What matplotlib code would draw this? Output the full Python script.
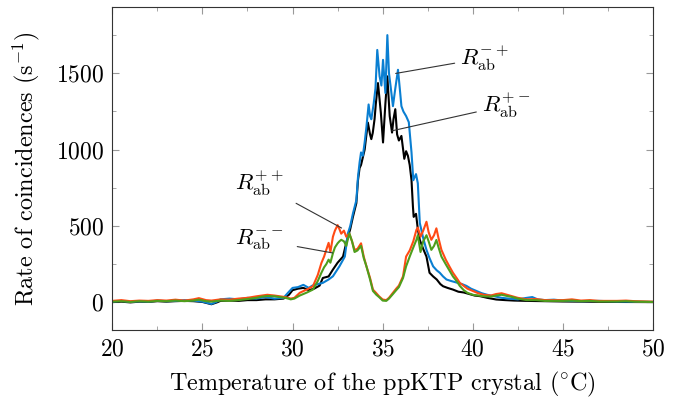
import matplotlib
matplotlib.use("Agg")
import matplotlib.pyplot as plt
from matplotlib.ticker import MultipleLocator

plt.rcParams['font.family'] = 'cmr10'
plt.rcParams['mathtext.fontset'] = 'cm'
plt.rcParams['axes.formatter.use_mathtext'] = True

# R_ab^{-+}  (blue)
t_mp = [20, 20.5, 21, 21.5, 22, 22.5, 23, 23.5, 24, 24.5,
        25, 25.5, 25.8, 26, 26.5, 27, 27.5, 28, 28.5, 29,
        29.5, 29.8, 30, 30.3, 30.6, 30.9, 31.1, 31.4, 31.68, 32.0,
        32.24, 32.6, 32.9, 33.07, 33.2, 33.35, 33.54, 33.63, 33.72, 33.8,
        33.9, 34.0, 34.1, 34.22, 34.3, 34.37, 34.5, 34.6, 34.7, 34.83,
        34.93, 35.02, 35.15, 35.26, 35.35, 35.44, 35.57, 35.7, 35.85, 35.95,
        36.04, 36.15, 36.3, 36.45, 36.6, 36.7, 36.85, 36.95, 37.06, 37.25,
        37.43, 37.6, 37.8, 38.0, 38.17, 38.35, 38.54, 38.8, 39.1, 39.4,
        39.65, 39.9, 40.2, 40.5, 40.8, 41.2, 41.6, 42, 42.5, 43,
        43.3, 43.6, 44, 44.5, 45, 45.5, 46, 47, 48, 49,
        50]
r_mp = [5, 10, 3, 8, 5, 12, 8, 10, 15, 12,
        5, -10, 5, 20, 25, 20, 30, 25, 35, 25,
        30, 70, 95, 100, 115, 95, 110, 120, 128, 150,
        171, 236, 300, 452, 500, 582, 669, 820, 917, 982,
        960, 1047, 1150, 1296, 1220, 1199, 1300, 1400, 1653, 1480,
        1420, 1588, 1371, 1750, 1500, 1415, 1285, 1400, 1523, 1400,
        1285, 1250, 1220, 1180, 982, 800, 840, 780, 520, 420,
        344, 290, 236, 210, 194, 170, 150, 140, 130, 120,
        108, 90, 75, 60, 50, 40, 30, 25, 20, 30,
        35, 20, 15, 18, 12, 10, 8, 10, 6, 5,
        3]

# R_ab^{+-}  (black)
t_pm = [20, 20.5, 21, 21.5, 22, 22.5, 23, 23.5, 24, 24.5,
        25, 25.5, 25.8, 26, 26.5, 27, 27.5, 28, 28.5, 29,
        29.5, 29.8, 30, 30.3, 30.6, 30.9, 31.2, 31.5, 31.68, 32.0,
        32.24, 32.5, 32.8, 33.0, 33.2, 33.35, 33.54, 33.63, 33.72, 33.8,
        34.0, 34.1, 34.18, 34.3, 34.37, 34.45, 34.55, 34.62, 34.74, 34.9,
        35.02, 35.15, 35.26, 35.39, 35.52, 35.6, 35.7, 35.8, 35.9, 36.04,
        36.2, 36.3, 36.4, 36.5, 36.6, 36.68, 36.72, 36.85, 36.95, 37.06,
        37.25, 37.43, 37.6, 37.8, 38.0, 38.2, 38.35, 38.6, 38.9, 39.2,
        39.5, 39.8, 40.1, 40.4, 40.8, 41.3, 41.8, 42.3, 43, 44,
        45, 46, 47, 48, 50]
r_pm = [2, 5, 0, 5, 3, 8, 5, 8, 10, 8,
        3, -12, 0, 10, 12, 10, 15, 15, 20, 20,
        25, 50, 80, 90, 95, 80, 90, 110, 160, 170,
        215, 260, 300, 400, 480, 560, 650, 800, 880, 900,
        1000, 1100, 1177, 1100, 1069, 1110, 1200, 1300, 1436, 1240,
        1047, 1300, 1480, 1220, 1112, 1200, 1265, 1100, 1060, 1090,
        940, 990, 960, 900, 800, 625, 560, 580, 480, 409,
        350, 300, 194, 170, 150, 120, 106, 95, 84, 70,
        65, 55, 45, 41, 30, 19, 15, 12, 10, 8,
        6, 5, 4, 3, 2]

# R_ab^{++} (orange) and R_ab^{--} (green) share one temperature grid
t_side = [20, 20.5, 21, 21.5, 22, 22.5, 23, 23.5, 24, 24.5,
          24.8, 25.2, 25.5, 26, 26.5, 27, 27.5, 28, 28.3, 28.6,
          29, 29.3, 29.6, 29.9, 30.1, 30.4, 30.8, 31.13, 31.4, 31.6,
          31.75, 31.87, 32.0, 32.1, 32.24, 32.35, 32.5, 32.6, 32.7, 32.85,
          32.98, 33.15, 33.3, 33.44, 33.6, 33.8, 33.95, 34.1, 34.3, 34.46,
          34.65, 34.8, 35.0, 35.2, 35.35, 35.57, 35.75, 35.9, 36.13, 36.3,
          36.5, 36.7, 36.87, 36.95, 37.1, 37.25, 37.43, 37.55, 37.7, 37.85,
          37.98, 38.1, 38.26, 38.5, 38.7, 38.9, 39.1, 39.28, 39.5, 39.7,
          40.0, 40.3, 40.6, 41.0, 41.3, 41.6, 41.9, 42.2, 42.5, 43,
          43.5, 44, 45, 45.5, 46, 46.5, 47, 48, 48.5, 49,
          50]
r_pp = [10, 15, 8, 12, 10, 15, 12, 18, 12, 20,
        28, 15, 12, 20, 18, 25, 30, 40, 45, 50,
        45, 40, 35, 25, 30, 63, 85, 106, 180, 258,
        300, 344, 390, 330, 430, 470, 506, 480, 450, 470,
        430, 450, 400, 344, 350, 387, 300, 236, 160, 84,
        60, 40, 19, 15, 30, 63, 90, 110, 171, 300,
        340, 400, 474, 490, 430, 470, 528, 460, 410, 440,
        485, 420, 344, 280, 236, 194, 160, 128, 108, 90,
        75, 60, 50, 45, 55, 60, 50, 40, 30, 20,
        22, 15, 15, 20, 12, 15, 10, 10, 12, 8,
        5]
r_mm = [5, 8, 3, 8, 5, 10, 8, 12, 8, 12,
        18, 8, 5, 12, 10, 15, 22, 30, 38, 42,
        40, 35, 30, 20, 25, 45, 65, 84, 140, 194,
        230, 250, 280, 260, 322, 360, 387, 400, 410, 400,
        370, 452, 400, 330, 340, 370, 290, 236, 150, 75,
        50, 35, 12, 10, 25, 55, 80, 100, 160, 236,
        300, 360, 409, 440, 330, 400, 440, 400, 344, 370,
        409, 360, 300, 250, 210, 170, 140, 108, 80, 63,
        50, 45, 40, 38, 45, 50, 42, 35, 25, 15,
        15, 10, 10, 12, 8, 10, 6, 6, 8, 5,
        3]

fig = plt.figure(figsize=(6.82, 4.03), dpi=100)
ax = fig.add_axes([0.1647, 0.181, 0.7928, 0.8016])

lw = 1.5
ax.plot(t_pm, r_pm, color='black', lw=lw)
ax.plot(t_mp, r_mp, color='#0a7fd2', lw=lw)
ax.plot(t_side, r_pp, color='#ff4a14', lw=lw)
ax.plot(t_side, r_mm, color='#4e9e1c', lw=lw)

ax.set_xlim(20, 50)
ax.set_ylim(-181, 1934)
ax.xaxis.set_major_locator(MultipleLocator(5))
ax.xaxis.set_minor_locator(MultipleLocator(2.5))
ax.yaxis.set_major_locator(MultipleLocator(500))
ax.yaxis.set_minor_locator(MultipleLocator(250))
ax.tick_params(which='both', direction='in', top=True, right=True,
               color='#999999', labelsize=17, pad=6)
ax.tick_params(which='major', length=5)
ax.tick_params(which='minor', length=3)
for s in ax.spines.values():
    s.set_color('#333333')
    s.set_linewidth(0.8)

ax.set_xlabel(r'Temperature of the ppKTP crystal ($^{\circ}$C)', fontsize=17.4, labelpad=7)
ax.set_ylabel(r'Rate of coincidences (s$^{-1}$)', fontsize=17.4, labelpad=10)

lbl = dict(arrowstyle='-', color='#333333', lw=0.8, shrinkA=2, shrinkB=0)
ax.annotate(r'$R_{\rm ab}^{-+}$', xy=(35.72, 1499), xytext=(39.3, 1600),
            ha='left', va='center', fontsize=16.5, arrowprops=lbl)
ax.annotate(r'$R_{\rm ab}^{+-}$', xy=(35.5, 1123), xytext=(40.5, 1290),
            ha='left', va='center', fontsize=16.5, arrowprops=lbl)
ax.annotate(r'$R_{\rm ab}^{++}$', xy=(32.72, 487), xytext=(29.5, 780),
            ha='right', va='center', fontsize=16.5,
            arrowprops=dict(lbl, shrinkA=8))
ax.annotate(r'$R_{\rm ab}^{--}$', xy=(32.22, 324), xytext=(29.5, 410),
            ha='right', va='center', fontsize=16.5,
            arrowprops=dict(lbl, shrinkA=8))

fig.savefig('out.png', dpi=100)
